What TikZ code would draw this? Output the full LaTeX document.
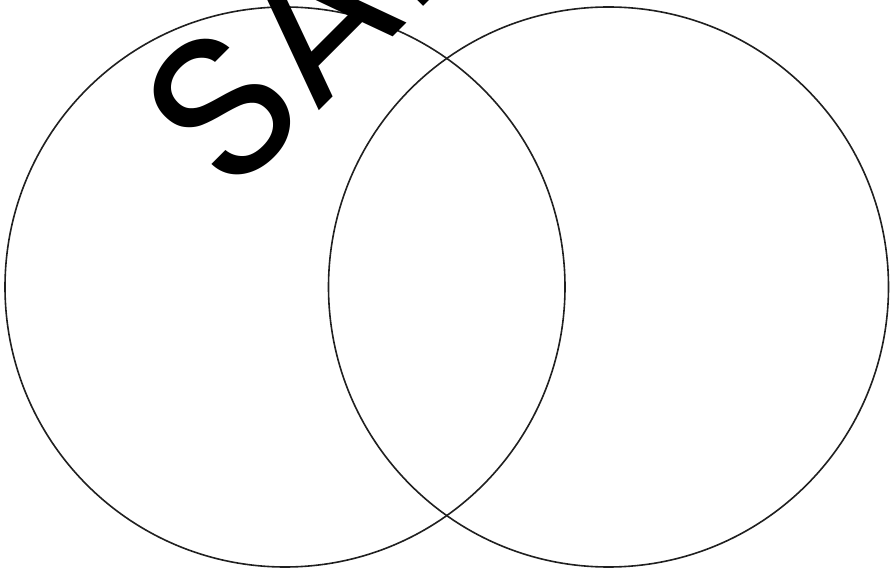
\documentclass[tikz,border=0pt]{standalone}
\usepackage{fontspec}
\newfontfamily\wmfont{Poppins}
\begin{document}
\begin{tikzpicture}[x=1pt,y=1pt,
  ring/.style={draw=black!88,line width=1.6pt},
  wmark/.style={font=\wmfont\fontsize{204}{204}\selectfont,text=black,inner sep=0pt,rotate=45,anchor=base west}]
\useasboundingbox (0,0) rectangle (894,568);
\clip (0,0) rectangle (894,568);
\node[ring,circle,minimum size=560pt,inner sep=0pt] (left) at (285,281) {};
\node[ring,circle,minimum size=560pt,inner sep=0pt] (right) at (608.5,281) {};
\node[wmark] (wm) at (230,368) {SAMPLE};
\end{tikzpicture}
\end{document}
